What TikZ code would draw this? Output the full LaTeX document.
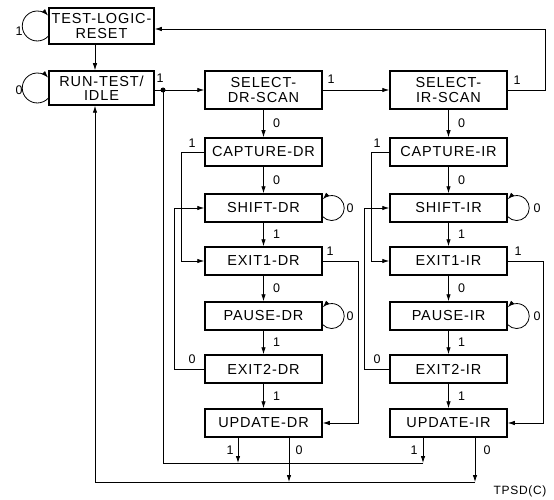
\documentclass[tikz,border=0pt]{standalone}
\usepackage{fontspec}
\setmainfont{Liberation Sans}[LetterSpace=6]
\usetikzlibrary{arrows.meta}
\begin{document}
\begin{tikzpicture}[x=1pt,y=1pt,
  st/.style={draw, line width=1.5pt, minimum width=117pt, minimum height=28pt, inner sep=0pt,
             font=\fontsize{14.5}{14.5}\selectfont, align=center},
  ln/.style={line width=0.8pt},
  ar/.style={ln, -{Latex[length=7pt,width=4.5pt]}},
  lab/.style={font=\fontsize{12.5}{12.5}\selectfont, inner sep=0pt},
]
\useasboundingbox (0,0) rectangle (554,-500);
% nodes
\node[st, minimum width=105pt, minimum height=36pt] (tlr) at (101.5,-26) {TEST-LOGIC-\\RESET};
\node[st, minimum width=105pt, minimum height=34pt] (rti) at (101.5,-88) {RUN-TEST/\\IDLE};
\node[st, minimum height=38pt] (sdr) at (263.5,-90) {SELECT-\\DR-SCAN};
\node[st, minimum height=38pt] (sir) at (448.5,-90) {SELECT-\\IR-SCAN};
\node[st] (cdr) at (263.5,-152) {CAPTURE-DR};
\node[st] (shdr) at (263.5,-208) {SHIFT-DR};
\node[st] (e1dr) at (263.5,-261) {EXIT1-DR};
\node[st] (pdr) at (263.5,-316) {PAUSE-DR};
\node[st] (e2dr) at (263.5,-369) {EXIT2-DR};
\node[st] (udr) at (263.5,-423) {UPDATE-DR};
\node[st] (cir) at (448.5,-152) {CAPTURE-IR};
\node[st] (shir) at (448.5,-208) {SHIFT-IR};
\node[st] (e1ir) at (448.5,-261) {EXIT1-IR};
\node[st] (pir) at (448.5,-316) {PAUSE-IR};
\node[st] (e2ir) at (448.5,-369) {EXIT2-IR};
\node[st] (uir) at (448.5,-423) {UPDATE-IR};
% coordinates
\coordinate (j) at (163,-90);
\coordinate (b1) at (163,-463);
\coordinate (b2) at (95,-482);
\coordinate (r1) at (545,-29);
% test-logic-reset / run-test-idle
\draw[ln, -{Latex[length=7pt,width=4.5pt]}] ([yshift=-10.2pt]tlr.west) arc[start angle=-43, end angle=-317, radius=15pt];
\node[lab] at (19,-31) {1};
\draw[ln, -{Latex[length=7pt,width=4.5pt]}] ([yshift=-10.2pt]rti.west) arc[start angle=-43, end angle=-317, radius=15pt];
\node[lab] at (19,-90) {0};
\draw[ar] ([xshift=-6.5pt]tlr.south) -- ([xshift=-6.5pt]rti.north);
\draw[ln] ([yshift=-2pt]rti.east) -- (j);
\fill (j) circle (2.5pt);
\node[lab] at (160,-78) {1};
\draw[ar] (j) -- (sdr.west);
\draw[ar] (sdr) -- (sir);
\node[lab] at (331,-79) {1};
\draw[ar] (sir.east) -| (r1) -- ([yshift=-3pt]tlr.east);
\node[lab] at (517,-80) {1};
% DR column
\draw[ar] (sdr) -- node[lab, xshift=13pt]{0} (cdr);
\draw[ar] (cdr) -- node[lab, xshift=13pt]{0} (shdr);
\draw[ar] (shdr) -- node[lab, xshift=13pt]{1} (e1dr);
\draw[ar] (e1dr) -- node[lab, xshift=13pt]{0} (pdr);
\draw[ar] (pdr) -- node[lab, xshift=13pt]{1} (e2dr);
\draw[ar] (e2dr) -- node[lab, xshift=13pt]{1} (udr);
\draw[ar] (cdr.west) -- ++(-23,0) |- (e1dr.west);
\node[lab] at (192,-143) {1};
\draw[ar] (e2dr.west) -- ++(-30,0) |- (shdr.west);
\node[lab] at (192,-359) {0};
\draw[ar] (e1dr.east) -- ++(36,0) |- (udr.east);
\node[lab] at (330,-251) {1};
\draw[ln, -{Latex[length=7pt,width=4.5pt]}] ([yshift=-8.7pt]shdr.east) arc[start angle=-136, end angle=136, radius=12.5pt];
\node[lab] at (350,-208) {0};
\draw[ln, -{Latex[length=7pt,width=4.5pt]}] ([yshift=-8.7pt]pdr.east) arc[start angle=-136, end angle=136, radius=12.5pt];
\node[lab] at (350,-316) {0};
% IR column
\draw[ar] (sir) -- node[lab, xshift=13pt]{0} (cir);
\draw[ar] (cir) -- node[lab, xshift=13pt]{0} (shir);
\draw[ar] (shir) -- node[lab, xshift=13pt]{1} (e1ir);
\draw[ar] (e1ir) -- node[lab, xshift=13pt]{0} (pir);
\draw[ar] (pir) -- node[lab, xshift=13pt]{1} (e2ir);
\draw[ar] (e2ir) -- node[lab, xshift=13pt]{1} (uir);
\draw[ar] (cir.west) -- ++(-18,0) |- (e1ir.west);
\node[lab] at (377,-143) {1};
\draw[ar] (e2ir.west) -- ++(-25,0) |- (shir.west);
\node[lab] at (377,-359) {0};
\draw[ar] (e1ir.east) -- ++(36,0) |- (uir.east);
\node[lab] at (518,-251) {1};
\draw[ln, -{Latex[length=7pt,width=4.5pt]}] ([yshift=-8.7pt]shir.east) arc[start angle=-136, end angle=136, radius=12.5pt];
\node[lab] at (537,-208) {0};
\draw[ln, -{Latex[length=7pt,width=4.5pt]}] ([yshift=-8.7pt]pir.east) arc[start angle=-136, end angle=136, radius=12.5pt];
\node[lab] at (537,-316) {0};
% update exits
\draw[ar] ([xshift=-25.5pt]udr.south) -- ([xshift=-25.5pt]udr.south |- b1);
\draw[ar] ([xshift=25.5pt]udr.south) -- ([xshift=25.5pt]udr.south |- b2);
\draw[ar] ([xshift=-25.5pt]uir.south) -- ([xshift=-25.5pt]uir.south |- b1);
\draw[ar] ([xshift=26.5pt]uir.south) -- ([xshift=26.5pt]uir.south |- b2);
\node[lab] at (230,-450) {1};
\node[lab] at (299,-450) {0};
\node[lab] at (414,-450) {1};
\node[lab] at (487,-450) {0};
\draw[ln] ([xshift=-25.5pt]uir.south |- b1) -- (b1) -- (j);
\draw[ar] ([xshift=26.5pt]uir.south |- b2) -- (b2) -- ([xshift=-6.5pt]rti.south);
\node[lab, font=\fontsize{12}{12}\selectfont] at (520,-491) {TPSD(C)};
\end{tikzpicture}
\end{document}
